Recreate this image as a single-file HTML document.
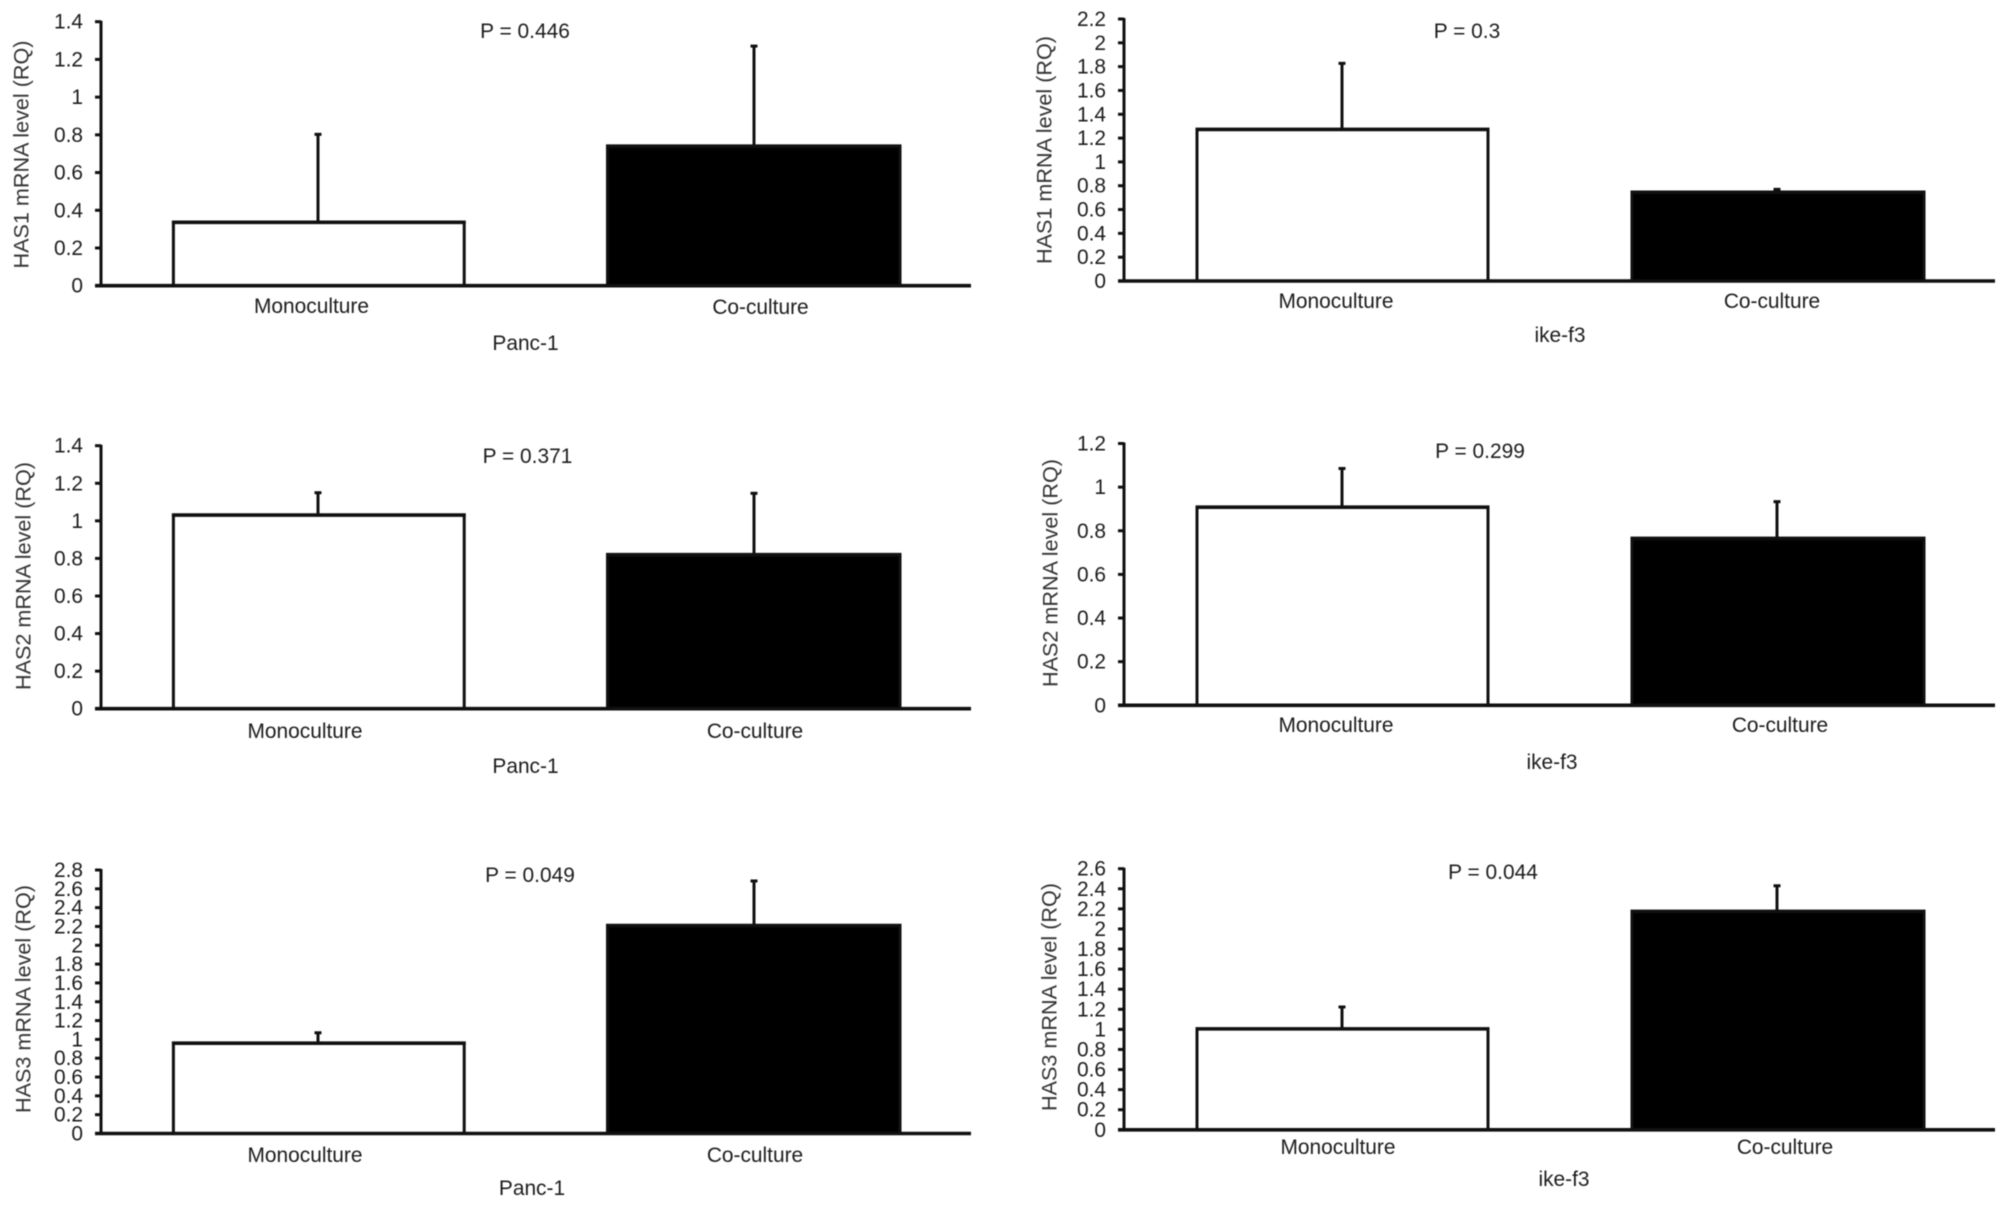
<!DOCTYPE html>
<html lang="en">
<head>
<meta charset="utf-8">
<title>HAS1-3 mRNA levels in monoculture and co-culture</title>
<style>
  html, body { margin: 0; padding: 0; background: #fff; }
  svg { display: block; filter: blur(0.55px); }
  text { font-family: "Liberation Sans", Arial, sans-serif; font-size: 20.9px; fill: #1c1c1c; }
</style>
</head>
<body>
<svg id="chart" xmlns="http://www.w3.org/2000/svg" width="2009" height="1207" viewBox="0 0 2009 1207"></svg>
<script>
// Data
const categories = ['Monoculture', 'Co-culture'];

const has1PancMeans = [0.336, 0.74];
const has1PancUpper = [0.808, 1.276];
const has1PancTicks = ['0', '0.2', '0.4', '0.6', '0.8', '1', '1.2', '1.4'];

const has1IkeMeans = [1.273, 0.745];
const has1IkeUpper = [1.836, 0.778];
const has1IkeTicks = ['0', '0.2', '0.4', '0.6', '0.8', '1', '1.2', '1.4', '1.6', '1.8', '2', '2.2'];

const has2PancMeans = [1.031, 0.82];
const has2PancUpper = [1.155, 1.152];
const has2PancTicks = ['0', '0.2', '0.4', '0.6', '0.8', '1', '1.2', '1.4'];

const has2IkeMeans = [0.908, 0.765];
const has2IkeUpper = [1.09, 0.938];
const has2IkeTicks = ['0', '0.2', '0.4', '0.6', '0.8', '1', '1.2'];

const has3PancMeans = [0.96, 2.21];
const has3PancUpper = [1.081, 2.694];
const has3PancTicks = ['0', '0.2', '0.4', '0.6', '0.8', '1', '1.2', '1.4', '1.6', '1.8', '2', '2.2', '2.4', '2.6', '2.8'];

const has3IkeMeans = [1.005, 2.175];
const has3IkeUpper = [1.233, 2.44];
const has3IkeTicks = ['0', '0.2', '0.4', '0.6', '0.8', '1', '1.2', '1.4', '1.6', '1.8', '2', '2.2', '2.4', '2.6'];

// Panel layout (geometry only; values come from the arrays above)
const panels = [
  { key: 'has1-panc', yTitle: 'HAS1 mRNA level (RQ)', cell: 'Panc-1', p: 'P = 0.446', means: has1PancMeans, upper: has1PancUpper, ticks: has1PancTicks,
    ax: 101, top: 21.7, base: 285.7, end: 971, bars: [[173.4, 464.2], [607.5, 900]], errX: [318, 754],
    tickX: 83, titlePos: [21, 154.5], catPos: [[311.5, 306], [760.5, 307]], cellPos: [525.5, 343], pPos: [525, 31] },
  { key: 'has1-ike', yTitle: 'HAS1 mRNA level (RQ)', cell: 'ike-f3', p: 'P = 0.3', means: has1IkeMeans, upper: has1IkeUpper, ticks: has1IkeTicks,
    ax: 1124, top: 19, base: 281, end: 1995, bars: [[1197, 1488], [1632, 1924]], errX: [1342, 1777],
    tickX: 1106, titlePos: [1044, 150], catPos: [[1336, 301], [1772, 301]], cellPos: [1560, 335], pPos: [1467, 31] },
  { key: 'has2-panc', yTitle: 'HAS2 mRNA level (RQ)', cell: 'Panc-1', p: 'P = 0.371', means: has2PancMeans, upper: has2PancUpper, ticks: has2PancTicks,
    ax: 101, top: 445.7, base: 708.7, end: 971, bars: [[173.4, 464.2], [607.5, 900]], errX: [318, 754],
    tickX: 83, titlePos: [23, 576], catPos: [[305, 731], [755, 731]], cellPos: [525.5, 766], pPos: [527.5, 456] },
  { key: 'has2-ike', yTitle: 'HAS2 mRNA level (RQ)', cell: 'ike-f3', p: 'P = 0.299', means: has2IkeMeans, upper: has2IkeUpper, ticks: has2IkeTicks,
    ax: 1124, top: 443.5, base: 705.3, end: 1995, bars: [[1197, 1488], [1632, 1924]], errX: [1342, 1777],
    tickX: 1106, titlePos: [1050, 573], catPos: [[1336, 725], [1780, 725]], cellPos: [1552, 762], pPos: [1480, 451] },
  { key: 'has3-panc', yTitle: 'HAS3 mRNA level (RQ)', cell: 'Panc-1', p: 'P = 0.049', means: has3PancMeans, upper: has3PancUpper, ticks: has3PancTicks,
    ax: 101, top: 870, base: 1133.5, end: 971, bars: [[173.4, 464.2], [607.5, 900]], errX: [318, 754],
    tickX: 83, titlePos: [23, 999], catPos: [[305, 1155], [755, 1155]], cellPos: [532, 1188], pPos: [530, 875] },
  { key: 'has3-ike', yTitle: 'HAS3 mRNA level (RQ)', cell: 'ike-f3', p: 'P = 0.044', means: has3IkeMeans, upper: has3IkeUpper, ticks: has3IkeTicks,
    ax: 1124, top: 868.7, base: 1129.8, end: 1995, bars: [[1197, 1488], [1632, 1924]], errX: [1342, 1777],
    tickX: 1106, titlePos: [1049, 997], catPos: [[1338, 1147], [1785, 1147]], cellPos: [1564, 1179], pPos: [1493, 872] }
];

const SVG_NS = 'http://www.w3.org/2000/svg';
const root = document.getElementById('chart');
const INK = '#101010';

function make(tag, attrs, parent) {
  const node = document.createElementNS(SVG_NS, tag);
  Object.keys(attrs).forEach(function (k) { node.setAttribute(k, attrs[k]); });
  parent.appendChild(node);
  return node;
}

function label(str, x, y, anchor, parent) {
  const t = make('text', { x: x, y: y + 7, 'text-anchor': anchor }, parent);
  t.textContent = str;
  return t;
}

panels.forEach(function (cfg) {
  const maxVal = parseFloat(cfg.ticks[cfg.ticks.length - 1]);
  const yScale = function (v) { return cfg.base - (v / maxVal) * (cfg.base - cfg.top); };

  const panel = make('g', {}, root);
  
  

  // bars and error bars
  cfg.means.forEach(function (mean, i) {
    const filled = i === 1;
    const x0 = cfg.bars[i][0];
    const x1 = cfg.bars[i][1];
    const yTop = yScale(mean);
    const yUp = yScale(cfg.upper[i]);
    const cx = cfg.errX[i];

    const whisker = make('line', { x1: cx, x2: cx, y1: yTop, y2: yUp, stroke: INK, 'stroke-width': 3 }, panel);
    
    

    const cap = make('line', { x1: cx - 3.5, x2: cx + 3.5, y1: yUp + 1, y2: yUp + 1, stroke: INK, 'stroke-width': 3 }, panel);
    
    

    const bar = make('path', {
      d: 'M' + x0 + ' ' + cfg.base + 'V' + yTop + 'H' + x1 + 'V' + cfg.base + (filled ? 'Z' : ''),
      fill: filled ? '#000' : '#fff',
      stroke: INK,
      'stroke-width': 3
    }, panel);
    
    

    const topEdge = make('line', { x1: x0 - 1.5, x2: x1 + 1.5, y1: yTop, y2: yTop, stroke: INK, 'stroke-width': 3.6 }, panel);
    
    

    const cat = label(categories[i], cfg.catPos[i][0], cfg.catPos[i][1], 'middle', panel);
    
    
  });

  // y axis
  const yAxis = make('line', { x1: cfg.ax, x2: cfg.ax, y1: cfg.top - 1, y2: cfg.base, stroke: INK, 'stroke-width': 3 }, panel);
  
  

  // x axis
  const xAxis = make('line', { x1: cfg.ax - 6, x2: cfg.end, y1: cfg.base, y2: cfg.base, stroke: INK, 'stroke-width': 3.6 }, panel);
  
  

  // ticks and tick labels
  cfg.ticks.forEach(function (tick) {
    const y = yScale(parseFloat(tick));
    const mark = make('line', { x1: cfg.ax - 6, x2: cfg.ax, y1: y, y2: y, stroke: INK, 'stroke-width': 3 }, panel);
    
    

    const tl = label(tick, cfg.tickX, y, 'end', panel);
    
    
  });

  // y-axis title
  const title = make('text', {
    x: 0, y: 0, 'text-anchor': 'middle', 'dominant-baseline': 'central',
    transform: 'translate(' + cfg.titlePos[0] + ' ' + cfg.titlePos[1] + ') rotate(-90)',
    style: 'fill:#333;font-size:21.6px'
  }, panel);
  title.textContent = cfg.yTitle;
  
  

  // cell-line label
  const cellLabel = label(cfg.cell, cfg.cellPos[0], cfg.cellPos[1], 'middle', panel);
  
  

  // p value
  const pLabel = label(cfg.p, cfg.pPos[0], cfg.pPos[1], 'middle', panel);
  
  
});
</script>
</body>
</html>
